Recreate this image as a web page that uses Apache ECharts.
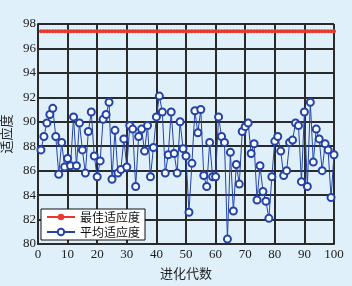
<!DOCTYPE html>
<html>
<head>
<meta charset="utf-8">
<script src="https://cdn.jsdelivr.net/npm/echarts@6/dist/echarts.min.js"></script>
<style>
  html, body { margin: 0; padding: 0; background: #dff0fa; }
  #chart { width: 352px; height: 286px; }
</style>
</head>
<body>
<div id="chart"></div>
<script>
// 进化代数 1..100
const generations = [
  1, 2, 3, 4, 5, 6, 7, 8, 9, 10,
  11, 12, 13, 14, 15, 16, 17, 18, 19, 20,
  21, 22, 23, 24, 25, 26, 27, 28, 29, 30,
  31, 32, 33, 34, 35, 36, 37, 38, 39, 40,
  41, 42, 43, 44, 45, 46, 47, 48, 49, 50,
  51, 52, 53, 54, 55, 56, 57, 58, 59, 60,
  61, 62, 63, 64, 65, 66, 67, 68, 69, 70,
  71, 72, 73, 74, 75, 76, 77, 78, 79, 80,
  81, 82, 83, 84, 85, 86, 87, 88, 89, 90,
  91, 92, 93, 94, 95, 96, 97, 98, 99, 100,
];

// 最佳适应度
const bestFitness = [
  97.4, 97.4, 97.4, 97.4, 97.4, 97.4, 97.4, 97.4, 97.4, 97.4,
  97.4, 97.4, 97.4, 97.4, 97.4, 97.4, 97.4, 97.4, 97.4, 97.4,
  97.4, 97.4, 97.4, 97.4, 97.4, 97.4, 97.4, 97.4, 97.4, 97.4,
  97.4, 97.4, 97.4, 97.4, 97.4, 97.4, 97.4, 97.4, 97.4, 97.4,
  97.4, 97.4, 97.4, 97.4, 97.4, 97.4, 97.4, 97.4, 97.4, 97.4,
  97.4, 97.4, 97.4, 97.4, 97.4, 97.4, 97.4, 97.4, 97.4, 97.4,
  97.4, 97.4, 97.4, 97.4, 97.4, 97.4, 97.4, 97.4, 97.4, 97.4,
  97.4, 97.4, 97.4, 97.4, 97.4, 97.4, 97.4, 97.4, 97.4, 97.4,
  97.4, 97.4, 97.4, 97.4, 97.4, 97.4, 97.4, 97.4, 97.4, 97.4,
  97.4, 97.4, 97.4, 97.4, 97.4, 97.4, 97.4, 97.4, 97.4, 97.4,
];

// 平均适应度
const avgFitness = [
  87.7, 88.8, 89.9, 90.6, 91.1, 88.8, 85.7, 88.3, 86.3, 87.0,
  86.4, 90.4, 86.4, 89.9, 87.7, 85.8, 89.2, 90.8, 87.2, 85.5,
  86.8, 90.2, 90.6, 91.6, 85.3, 89.3, 85.8, 86.1, 88.6, 86.3,
  89.7, 89.4, 84.7, 88.8, 89.4, 87.6, 89.7, 85.5, 87.9, 90.4,
  92.1, 90.8, 85.8, 87.3, 90.8, 87.4, 85.8, 90.0, 87.8, 87.2,
  82.6, 86.6, 90.9, 89.1, 91.0, 85.6, 84.7, 88.3, 85.5, 85.5,
  90.4, 88.8, 88.3, 80.4, 87.5, 82.7, 86.5, 84.9, 89.2, 89.6,
  89.9, 87.4, 88.2, 83.6, 86.4, 84.3, 83.5, 82.1, 85.5, 88.4,
  88.8, 87.6, 85.6, 86.0, 88.3, 88.5, 89.9, 89.7, 85.1, 90.8,
  84.7, 91.6, 86.7, 89.4, 88.6, 86.0, 88.2, 87.7, 83.8, 87.3,
];

const xTicks = { min: 0, max: 100, step: 10 };
const yTicks = { min: 80, max: 98, step: 2 };

const labelFont = 'Liberation Serif';
const cjkFont = 'Noto Sans CJK SC';
const gridColor = '#2a2a2a';

const chart = echarts.init(document.getElementById('chart'));
chart.setOption({
  grid: {
    left: 38,
    right: 18,
    top: 24,
    bottom: 42,
    outerBoundsMode: 'none',
  },
  legend: {
    orient: 'vertical',
    left: 41,
    top: 209,
    backgroundColor: '#fff',
    borderColor: '#111',
    borderWidth: 1,
    borderRadius: 0,
    padding: [2, 5, 2, 5],
    itemGap: 3,
    itemWidth: 28,
    itemHeight: 8,
    textStyle: { fontFamily: cjkFont, fontSize: 12, color: '#111' },
    data: ['最佳适应度', '平均适应度'],
  },
  xAxis: {
    type: 'value',
    min: xTicks.min,
    max: xTicks.max,
    interval: xTicks.step,
    name: '进化代数',
    nameLocation: 'middle',
    nameGap: 23,
    nameTextStyle: { fontFamily: cjkFont, fontSize: 13, color: '#222' },
    axisLine: { show: true, lineStyle: { color: gridColor, width: 2 } },
    axisTick: { show: false },
    axisLabel: { fontFamily: labelFont, fontSize: 13, color: '#222', margin: 4 },
    splitLine: { show: true, lineStyle: { color: gridColor, width: 2 } },
  },
  yAxis: {
    type: 'value',
    min: yTicks.min,
    max: yTicks.max,
    interval: yTicks.step,
    name: '适应度',
    nameLocation: 'middle',
    nameGap: 23,
    nameRotate: 90,
    nameTextStyle: { fontFamily: cjkFont, fontSize: 13, color: '#222' },
    axisLine: { show: true, lineStyle: { color: gridColor, width: 2 } },
    axisTick: { show: false },
    axisLabel: { fontFamily: labelFont, fontSize: 13, color: '#222', margin: 2 },
    splitLine: { show: true, lineStyle: { color: gridColor, width: 2 } },
  },
  series: [
    {
      name: '最佳适应度',
      type: 'line',
      data: generations.map((g, i) => [g, bestFitness[i]]),
      symbol: 'circle',
      symbolSize: 4,
      showAllSymbol: true,
      lineStyle: { color: '#e63a2e', width: 2 },
      itemStyle: { color: '#e63a2e' },
    },
    {
      name: '平均适应度',
      type: 'line',
      data: generations.map((g, i) => [g, avgFitness[i]]),
      symbol: 'emptyCircle',
      symbolSize: 7,
      showAllSymbol: true,
      lineStyle: { color: '#2443a6', width: 1 },
      itemStyle: { color: '#2443a6', borderWidth: 1 },
    },
  ],
});
window.addEventListener('resize', () => { chart.resize(); });
</script>
</body>
</html>
